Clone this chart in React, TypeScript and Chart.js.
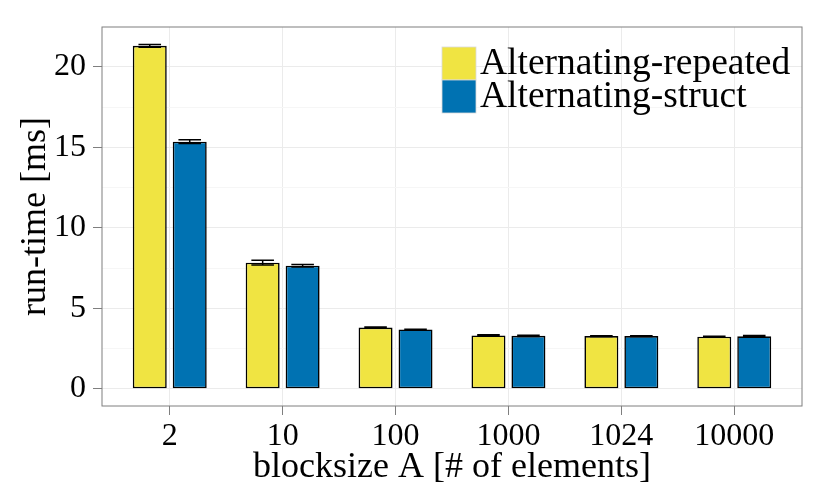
import { useEffect, useRef } from "react"
import { Chart, registerables } from "chart.js"

Chart.register(...registerables)

// dữ liệu
const categories = ["2", "10", "100", "1000", "1024", "10000"]
const seriesNames = ["Alternating-repeated", "Alternating-struct"]
const repeatedValues = [21.3, 7.83, 3.8, 3.31, 3.27, 3.23]
const repeatedErrors = [0.08, 0.15, 0.03, 0.05, 0.02, 0.03]
const structValues = [15.35, 7.64, 3.68, 3.29, 3.27, 3.26]
const structErrors = [0.12, 0.08, 0.02, 0.04, 0.03, 0.05]
const yTickValues = [0, 2.5, 5, 7.5, 10, 12.5, 15, 17.5, 20]

const YELLOW = "#F0E442"
const BLUE = "#0072B2"
const FONT = "'Liberation Serif', 'Times New Roman', serif"

// vẽ error bar cho từng cột
const errorBarPlugin = {
  id: "errorBars",
  afterDatasetsDraw(chart: any) {
    const { ctx } = chart
    const yScale = chart.scales.y
    const xScale = chart.scales.x
    const capHalf = (xScale.getPixelForValue(0.1) - xScale.getPixelForValue(0))
    chart.data.datasets.forEach((ds: any, di: number) => {
      const meta = chart.getDatasetMeta(di)
      const errs: number[] = ds.errors
      meta.data.forEach((bar: any, i: number) => {
        const v = ds.data[i].y
        const yTop = yScale.getPixelForValue(v + errs[i])
        const yBot = yScale.getPixelForValue(v - errs[i])
        ctx.save()
        ctx.strokeStyle = "#000"
        ctx.lineWidth = 1.5
        ctx.beginPath()
        ctx.moveTo(bar.x - capHalf, yTop)
        ctx.lineTo(bar.x + capHalf, yTop)
        ctx.moveTo(bar.x, yTop)
        ctx.lineTo(bar.x, yBot)
        ctx.moveTo(bar.x - capHalf, yBot)
        ctx.lineTo(bar.x + capHalf, yBot)
        ctx.stroke()
        ctx.restore()
      })
    })
  },
}

// khung viền quanh vùng vẽ + chú thích bên trong
const panelPlugin = {
  id: "panelFrame",
  afterDraw(chart: any) {
    const { ctx, chartArea } = chart
    const { left, top, right, bottom } = chartArea
    ctx.save()
    ctx.strokeStyle = "#7f7f7f"
    ctx.lineWidth = 1
    ctx.strokeRect(left, top, right - left, bottom - top)

    // legend
    const kx = left + 340
    let ky = top + 20
    const kw = 34
    const kh = 33
    ctx.font = `37.5px ${FONT}`
    ctx.textBaseline = "middle"
    ctx.textAlign = "left"
    chart.data.datasets.forEach((ds: any) => {
      ctx.fillStyle = ds.backgroundColor
      ctx.fillRect(kx, ky, kw, kh)
      ctx.strokeStyle = "#d9d9d9"
      ctx.lineWidth = 0.8
      ctx.strokeRect(kx, ky, kw, kh)
      ctx.fillStyle = "#000"
      ctx.fillText(ds.label, kx + kw + 4, ky + kh / 2 + 1)
      ky += kh
    })
    ctx.restore()
  },
}

const isMajor = (v: number) => Math.abs(v % 5) < 1e-9

export default function App() {
  const chartRef = useRef<HTMLCanvasElement>(null)
  const chartInstance = useRef<Chart | null>(null)

  useEffect(() => {
    document.body.style.margin = "0"
    if (!chartRef.current) return
    if (chartInstance.current) {
      chartInstance.current.destroy()
    }
    const ctx = chartRef.current.getContext("2d")
    if (!ctx) return

    const toPoints = (vals: number[]) => vals.map((y, i) => ({ x: i, y }))

    chartInstance.current = new Chart(ctx, {
      type: "bar",
      data: {
        datasets: [
          {
            label: seriesNames[0],
            data: toPoints(repeatedValues),
            errors: repeatedErrors,
            backgroundColor: YELLOW,
            borderColor: "#000",
            borderWidth: 1.6,
            borderSkipped: false,
          } as any,
          {
            label: seriesNames[1],
            data: toPoints(structValues),
            errors: structErrors,
            backgroundColor: BLUE,
            borderColor: "#000",
            borderWidth: 1.6,
            borderSkipped: false,
          } as any,
        ],
      },
      options: {
        animation: false,
        responsive: true,
        maintainAspectRatio: false,
        categoryPercentage: 0.708,
        barPercentage: 0.85,
        layout: { padding: { left: 18, right: 28, top: 27, bottom: 12 } },
        plugins: {
          legend: { display: false },
          tooltip: { enabled: false },
        },
        scales: {
          x: {
            type: "linear",
            min: -0.6,
            max: 5.6,
            offset: false,
            afterBuildTicks: (scale: any) => {
              scale.ticks = categories.map((_, i) => ({ value: i }))
            },
            afterFit: (scale: any) => {
              scale.height = 80
            },
            grid: {
              offset: false,
              color: "#ebebeb",
              lineWidth: 1,
              tickColor: "#7f7f7f",
              tickLength: 9,
            },
            border: { display: false },
            ticks: {
              color: "#000",
              font: { family: FONT, size: 32 },
              padding: 2,
              maxRotation: 0,
              autoSkip: false,
              callback: (v: any) => categories[v] ?? "",
            },
            title: {
              display: true,
              text: "blocksize A [# of elements]",
              color: "#000",
              font: { family: FONT, size: 36, lineHeight: 1 },
              padding: 0,
            },
          },
          y: {
            min: -1.07,
            max: 22.47,
            afterBuildTicks: (scale: any) => {
              scale.ticks = yTickValues.map((v) => ({ value: v }))
            },
            afterFit: (scale: any) => {
              scale.width = 84
            },
            grid: {
              color: (c: any) => (isMajor(c.tick?.value ?? 0) ? "#ebebeb" : "#f6f6f6"),
              lineWidth: 1,
              tickColor: (c: any) => (isMajor(c.tick?.value ?? 0) ? "#7f7f7f" : "rgba(0,0,0,0)"),
              tickLength: 9,
            },
            border: { display: false },
            ticks: {
              color: "#000",
              font: { family: FONT, size: 32 },
              padding: 7,
              autoSkip: false,
              callback: (v: any) => (isMajor(v) ? String(v) : ""),
            },
            title: {
              display: true,
              text: "run-time [ms]",
              color: "#000",
              font: { family: FONT, size: 36, lineHeight: 1 },
              padding: 0,
            },
          },
        },
      } as any,
      plugins: [errorBarPlugin, panelPlugin],
    })

    return () => {
      if (chartInstance.current) {
        chartInstance.current.destroy()
        chartInstance.current = null
      }
    }
  }, [])

  return (
    <div style={{ width: 830, height: 498, position: "relative", background: "#fff" }}>
      <canvas ref={chartRef} />
    </div>
  )
}
